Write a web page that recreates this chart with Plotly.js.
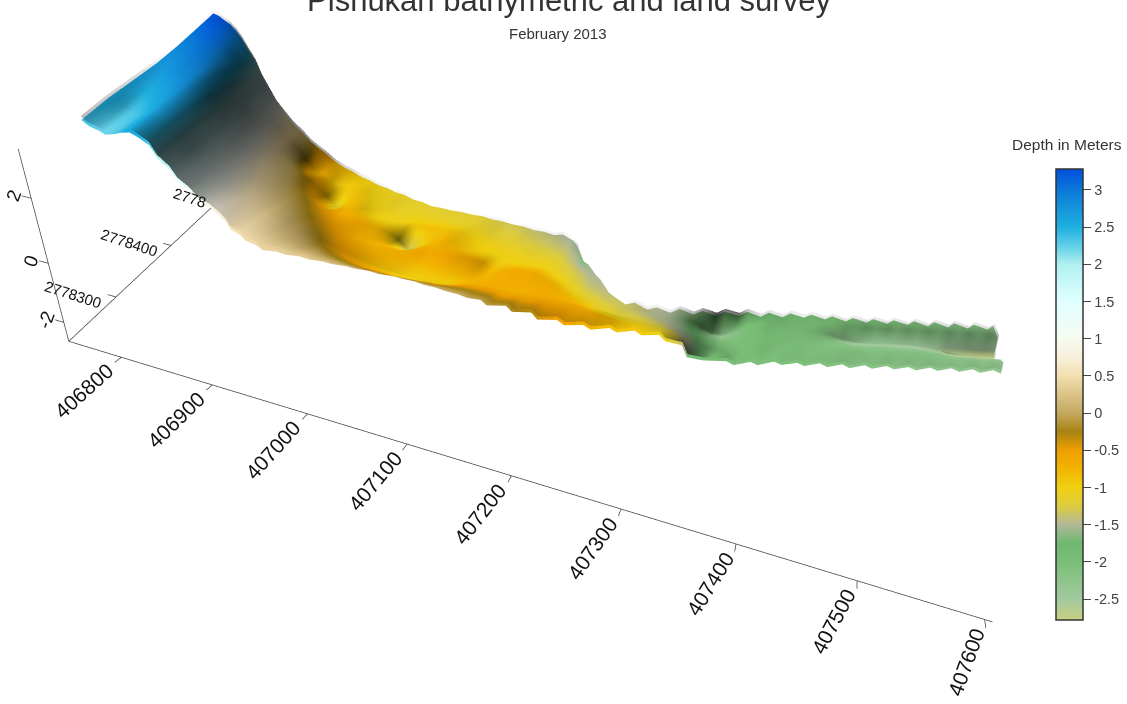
<!DOCTYPE html>
<html><head><meta charset="utf-8"><script src="https://cdn.plot.ly/plotly-3.0.1.min.js"></script>
<style>html,body{margin:0;padding:0;background:#fff}#g{width:1127px;height:704px}</style></head><body><div id="g"></div>
<script>
const xStart=406634, xStep=12, yBase=2778000, xOrigin=406000, xUnit=33, yUnit=36.4;
const bandHigh=[745,737,729,722,715,706,699,692,683,676,671,668,666,664,661,659,656,654,652,649,647,644,642,640,637,635,632,630,628,628,630,632,634,636,638,641,643,644,646,649,651,653,655,634,615,595,575,556,536,518,514,517,520,524,530,538,546,554,562,569,578,586,593,602,610,618,626,631,638,643,649,655,661,667,673,679,685,691,696,703,708,715,720,726,732,738];
const bandLow=[380,379,377,375,374,371,368,368,367,365,364,362,361,360,359,358,356,355,355,355,357,359,362,364,367,369,371,374,376,379,381,383,386,388,389,391,392,394,394,396,397,399,399,401,403,405,409,414,418,423,428,432,437,442,446,451,457,464,471,478,484,491,497,504,511,518,524,531,538,544,551,557,564,570,577,583,589,595,602,608,615,620,627,633,640,645];
const lowerLip=[0,0,0,0,0,0,0,0,0,0,0,0,0,0,0,0,5,10,15,20,25,30,30,30,30,30,30,30,30,30,30,30,30,30,30,30,30,30,30,30,28,26,24,22,20,18,15,12,9,6,3,0,0,0,0,0,0,0,0,0,0,0,0,0,0,0,0,0,0,0,0,0,0,0,0,0,0,0,0,0,0,0,0,0,0,0];
const depthProfiles=[
[2.40,2.55,2.62,2.70,2.85,3.05,3.25],[2.30,2.48,2.55,2.68,2.88,3.08,3.25],[2.22,2.35,2.50,2.72,2.92,3.10,3.22],[2.20,2.30,2.55,2.78,2.95,3.10,3.15],[2.30,2.38,2.60,2.80,2.95,3.05,3.02],[2.45,2.50,2.65,2.80,2.90,2.95,2.80],[2.55,2.60,2.68,2.78,2.82,2.75,2.50],[2.50,2.58,2.62,2.68,2.60,2.40,2.15],[2.30,2.40,2.40,2.35,2.20,2.00,1.75],[2.00,2.10,2.05,1.95,1.80,1.60,1.35],
[1.70,1.75,1.70,1.58,1.40,1.20,.95],[1.45,1.45,1.38,1.22,1.02,.85,.60],[1.20,1.18,1.08,.90,.70,.50,.30],[1.00,.95,.82,.62,.42,.22,.05],[.85,.75,.60,.40,.18,-.02,-.18],[.75,.60,.42,.22,-.02,-.40,-.38],[.65,.48,.28,.05,-.20,-.72,-.50],[.55,.38,.15,-.10,-.35,-.70,-.72],[.50,.30,.05,-.22,-.62,-.85,-.80],[.48,.24,-.05,-.35,-.80,-.95,-.88],
[.45,.12,-.18,-.48,-1.15,-.90,-.95],[.42,.02,-.30,-.55,-.85,-.88,-1.0],[.40,-.10,-.42,-.62,-.80,-.95,-1.05],[.38,-.25,-.52,-.60,-.90,-1.02,-1.08],[.36,-.38,-.60,-.62,-.98,-1.05,-1.10],[.34,-.50,-.65,-.70,-1.02,-1.08,-1.12],[.32,-.62,-.68,-.75,-1.02,-1.12,-1.15],[.30,-.72,-.70,-.85,-1.0,-1.08,-1.16],[.28,-.82,-.68,-1.05,-.92,-1.08,-1.18],[.26,-.88,-.66,-1.40,-.88,-1.08,-1.18],
[.24,-.95,-.62,-1.05,-.85,-1.10,-1.18],[.22,-1.00,-.60,-.82,-.85,-1.10,-1.20],[.20,-1.02,-.62,-.72,-.85,-1.12,-1.20],[.18,-1.00,-.55,-.78,-.92,-1.10,-1.22],[.15,-.98,-.52,-.85,-.98,-1.12,-1.25],[.12,-.95,-.56,-.90,-1.02,-1.18,-1.30],[.08,-.85,-.60,-.92,-1.05,-1.22,-1.32],[.05,-.75,-.70,-.95,-1.08,-1.22,-1.34],[.02,-.70,-.82,-.98,-1.10,-1.25,-1.38],[-.02,-.68,-.70,-1.00,-1.12,-1.30,-1.42],
[-.06,-.70,-.62,-1.00,-1.15,-1.32,-1.45],[-.10,-.72,-.62,-.98,-1.18,-1.35,-1.50],[-.14,-.70,-.64,-.98,-1.18,-1.38,-1.55],[-.20,-.66,-.68,-1.00,-1.20,-1.40,-1.55],[-.28,-.62,-.72,-1.02,-1.22,-1.42,-1.70],[-.38,-.60,-.78,-1.05,-1.25,-1.40,-1.60],[-.50,-.60,-.82,-1.08,-1.28,-1.42,-1.50],[-.60,-.62,-.88,-1.10,-1.25,-1.40,-1.48],[-.70,-.65,-.92,-1.12,-1.22,-1.35,-1.42],[-.78,-.68,-.95,-1.10,-1.20,-1.30,-1.38],
[-.85,-.80,-1.00,-1.15,-1.25,-1.32,-1.36],[-.90,-.88,-1.05,-1.18,-1.28,-1.36,-1.40],[-.92,-.95,-1.10,-1.22,-1.32,-1.42,-1.44],[-.95,-1.02,-1.15,-1.28,-1.38,-1.48,-1.48],[-1.00,-1.10,-1.22,-1.36,-1.45,-1.52,-1.50],[-1.10,-1.22,-1.34,-1.48,-1.55,-1.60,-1.54],[-1.35,-1.42,-1.52,-1.62,-1.70,-1.75,-1.60],[-1.70,-1.65,-1.72,-1.80,-1.92,-2.00,-1.65],[-1.95,-1.82,-1.88,-1.95,-2.10,-2.25,-1.68],[-1.85,-1.92,-1.95,-2.02,-2.18,-2.32,-1.70],
[-1.98,-1.98,-1.98,-2.02,-2.12,-2.20,-1.72],[-2.02,-2.0,-1.98,-1.98,-2.0,-2.02,-1.75],[-2.0,-1.98,-1.95,-1.95,-1.92,-1.88,-1.78],[-2.02,-2.0,-1.98,-1.98,-1.95,-1.90,-1.82],[-2.0,-2.02,-2.0,-1.98,-1.96,-1.92,-1.85],[-2.02,-2.02,-2.0,-2.0,-1.98,-1.95,-1.88],[-2.05,-2.04,-2.02,-2.02,-2.0,-1.96,-1.90],[-2.06,-2.05,-2.03,-2.04,-2.02,-1.98,-1.92],[-2.08,-2.05,-2.04,-2.08,-2.08,-2.0,-1.94],[-2.1,-2.06,-2.05,-2.12,-2.18,-2.02,-1.96],
[-2.12,-2.06,-2.06,-2.16,-2.32,-2.04,-1.98],[-2.14,-2.08,-2.08,-2.2,-2.42,-2.06,-2.0],[-2.15,-2.1,-2.1,-2.22,-2.46,-2.08,-2.0],[-2.16,-2.1,-2.1,-2.22,-2.48,-2.08,-2.02],[-2.18,-2.1,-2.12,-2.24,-2.46,-2.1,-2.02],[-2.18,-2.12,-2.12,-2.25,-2.48,-2.12,-2.04],[-2.2,-2.12,-2.14,-2.26,-2.5,-2.12,-2.04],[-2.2,-2.14,-2.14,-2.28,-2.52,-2.14,-2.05],[-2.22,-2.14,-2.16,-2.34,-2.54,-2.14,-2.06],[-2.22,-2.15,-2.2,-2.42,-2.56,-2.16,-2.06],
[-2.24,-2.16,-2.26,-2.55,-2.58,-2.16,-2.08],[-2.24,-2.16,-2.3,-2.62,-2.6,-2.18,-2.08],[-2.26,-2.18,-2.32,-2.66,-2.62,-2.18,-2.1],[-2.28,-2.2,-2.34,-2.7,-2.64,-2.2,-2.1],[-2.3,-2.2,-2.36,-2.72,-2.66,-2.2,-2.12],[-2.3,-2.22,-2.36,-2.72,-2.66,-2.22,-2.12]];
const stopZ=[-2.78,-2.5,-2.0,-1.75,-1.5,-1.25,-1,-.75,-.5,-.25,0,.5,.75,1,1.5,2,2.25,2.5,3,3.28];
const stopColor=['#c8d080','#a3c9a0','#7abf77','#6fb86f','#b0b898','#dccc40','#f0d010','#f2b400','#ef9f00','#a88312','#c4a860','#f3dfb0','#f8f0dc','#f6fbf0','#e0ffff','#b0f0f0','#5fcfe8','#1fb0e0','#0a78d8','#0050e0'];
const xTicks=[406800,406900,407000,407100,407200,407300,407400,407500,407600];
const xTickAngles=[-42,-44,-48,-50,-52,-55,-58,-62,-70];
const yTicks=[2778300,2778400,2778500];
const yTickText=['2778300','2778400','2778'];
const zTicks=[-2,0,2];
const xAxisStart=406740,xAxisEnd=407606,yAxisStart=2778224,yAxisEnd=2778560,zAxisStart=-2.68,zAxisEnd=3.4,yAxisTilt=.0055;
const toothLeft=2,toothRight=9,shearMax=38;
const sunDirection=[-.5,.25,.83],shadeGain=1.15,shadeLift=.12;

const px=x=>(x-xOrigin)/xUnit, py=y=>(y-yBase)/yUnit;
const cmin=-2.78,cmax=3.28;
const colorscale=stopZ.map((z,i)=>[(z-cmin)/(cmax-cmin),stopColor[i]]);
const nRows=7,nCols=depthProfiles.length;
const sx=[],sy=[],sz=[];
for(let j=0;j<nRows;j++){
  const rx=[],ry=[],rz=[];
  for(let i=0;i<nCols;i++){
    const shear=Math.max(0,1-i/40)*shearMax;
    let xv=xStart+i*xStep+(3-j)/3*shear;
    let yv=bandLow[i]+(bandHigh[i]-bandLow[i])*j/(nRows-1);
    if(j===0) yv-=lowerLip[i];
    const edge=(j===0||j===nRows-1);
    if(edge&&i%2===1){
      const t=i<40?toothLeft:toothRight;
      yv+=(j===0?-t:t);
      xv-=t*0.45;
    }
    rx.push(px(xv));ry.push(py(yBase+yv));rz.push(depthProfiles[i][j]);
  }
  sx.push(rx);sy.push(ry);sz.push(rz);
}
// hill shade of the same surface, from its own slopes
const shade=[],shadeZ=[];
for(let j=0;j<nRows;j++){
  const r=[],rz=[];
  for(let i=0;i<nCols;i++){
    const a=Math.max(0,i-1),b=Math.min(nCols-1,i+1),c=Math.max(0,j-1),d=Math.min(nRows-1,j+1);
    const gx=(sz[j][b]-sz[j][a])/(sx[j][b]-sx[j][a]);
    const gy=(sz[d][i]-sz[c][i])/(sy[d][i]-sy[c][i]);
    const n=Math.sqrt(gx*gx+gy*gy+1);
    const lit=(-gx*sunDirection[0]-gy*sunDirection[1]+sunDirection[2])/n/sunDirection[2];
    r.push(Math.max(0,Math.min(1,(1-lit)*shadeGain)));
    rz.push(sz[j][i]+shadeLift);
  }
  shade.push(r);shadeZ.push(rz);
}
const zOnY=y=>zAxisStart+(y-yAxisStart)*yAxisTilt;
const ax=[],ay=[],az=[];
function seg(a,b){ax.push(px(a[0]),px(b[0]),null);ay.push(py(a[1]),py(b[1]),null);az.push(a[2],b[2],null);}
let prevX=xAxisStart;
xTicks.concat([xAxisEnd]).forEach(v=>{seg([prevX,yAxisStart,zAxisStart],[v,yAxisStart,zAxisStart]);prevX=v;});
seg([xAxisStart,yAxisStart,zAxisStart],[xAxisStart,yAxisEnd,zOnY(yAxisEnd)]);
seg([xAxisStart,yAxisStart,zAxisStart],[xAxisStart,yAxisStart,zAxisEnd]);
xTicks.forEach(v=>seg([v,yAxisStart,zAxisStart],[v,yAxisStart-10,zAxisStart]));
yTicks.forEach(v=>seg([xAxisStart,v,zOnY(v)],[xAxisStart-10,v,zOnY(v)]));
zTicks.forEach(v=>seg([xAxisStart,yAxisStart,v],[xAxisStart-10,yAxisStart,v]));

const anns=[];
xTicks.forEach((v,i)=>anns.push({x:px(v),y:py(yAxisStart-10),z:zAxisStart,text:String(v),showarrow:false,textangle:xTickAngles[i],xanchor:'right',yanchor:'top',xshift:6,yshift:6,font:{family:'Liberation Sans',size:21,color:'#111'}}));
yTicks.forEach((v,i)=>anns.push({x:px(xAxisStart-12),y:py(v),z:zOnY(v),text:yTickText[i],showarrow:false,textangle:18,xanchor:'right',yanchor:'middle',font:{family:'Liberation Sans',size:15,color:'#111'}}));
zTicks.forEach(v=>anns.push({x:px(xAxisStart-12),y:py(yAxisStart),z:v,text:String(v),showarrow:false,textangle:-70,xanchor:'right',yanchor:'middle',xshift:8,font:{family:'Liberation Sans',size:19,color:'#111'}}));

const hidden={visible:false};
const data=[
 {type:'surface',x:sx,y:sy,z:sz,cmin,cmax,colorscale,hoverinfo:'skip',
  lighting:{ambient:1,diffuse:0,specular:0,roughness:1,fresnel:0},
  colorbar:{x:1056/1127,xanchor:'left',xpad:0,ypad:0,thickness:27,len:451/704,y:1-620/704,yanchor:'bottom',
    outlinecolor:'#333',outlinewidth:1.5,ticks:'outside',ticklen:8,tickcolor:'#444',tickvals:[3,2.5,2,1.5,1,.5,0,-.5,-1,-1.5,-2,-2.5],ticktext:['3','2.5','2','1.5','1','0.5','0','-0.5','-1','-1.5','-2','-2.5'],
    tickfont:{family:'Liberation Sans',size:14.5,color:'#444'}}},
 {type:'surface',x:sx,y:sy,z:shadeZ,surfacecolor:shade,cmin:0,cmax:1,showscale:false,hoverinfo:'skip',
  colorscale:[[0,'#000000'],[1,'#000000']],opacityscale:[[0,0],[1,.92]],
  lighting:{ambient:1,diffuse:0,specular:0,roughness:1,fresnel:0}},
 {type:'scatter3d',mode:'lines',x:ax,y:ay,z:az,line:{color:'#444',width:1.5},hoverinfo:'skip',showlegend:false}
];
const layout={width:1127,height:704,margin:{l:0,r:0,t:0,b:0,autoexpand:false},paper_bgcolor:'#fff',showlegend:false,
 title:{text:'Pishukan bathymetric and land survey',x:569/1127,xanchor:'center',y:1,yanchor:'middle',font:{family:'Liberation Sans',size:31,color:'#333'}},
 annotations:[{xref:'paper',yref:'paper',x:558/1127,y:1-33/704,xanchor:'center',yanchor:'middle',text:'February 2013',showarrow:false,font:{family:'Liberation Sans',size:15,color:'#333'}},
  {xref:'paper',yref:'paper',x:1067/1127,y:1-145/704,xanchor:'center',yanchor:'middle',text:'Depth in Meters',showarrow:false,font:{family:'Liberation Sans',size:15.5,color:'#333'}}],
 scene:{domain:{x:[0,1],y:[0,1]},bgcolor:'rgba(0,0,0,0)',aspectmode:'manual',aspectratio:{x:1.4535,y:1.08,z:.2437},
  xaxis:Object.assign({range:[500/xUnit,1700/xUnit]},hidden),yaxis:Object.assign({range:[100/yUnit,1100/yUnit]},hidden),zaxis:Object.assign({range:[-2.8,3.4]},hidden),
  camera:{eye:{x:.302,y:-1.0469,z:.5097},center:{x:.122,y:-.2429,z:-.0593},up:{x:-.259,y:.519,z:.816},projection:{type:'perspective'}},
  annotations:anns}};
Plotly.newPlot('g',data,layout,{displayModeBar:false});
</script></body></html>
